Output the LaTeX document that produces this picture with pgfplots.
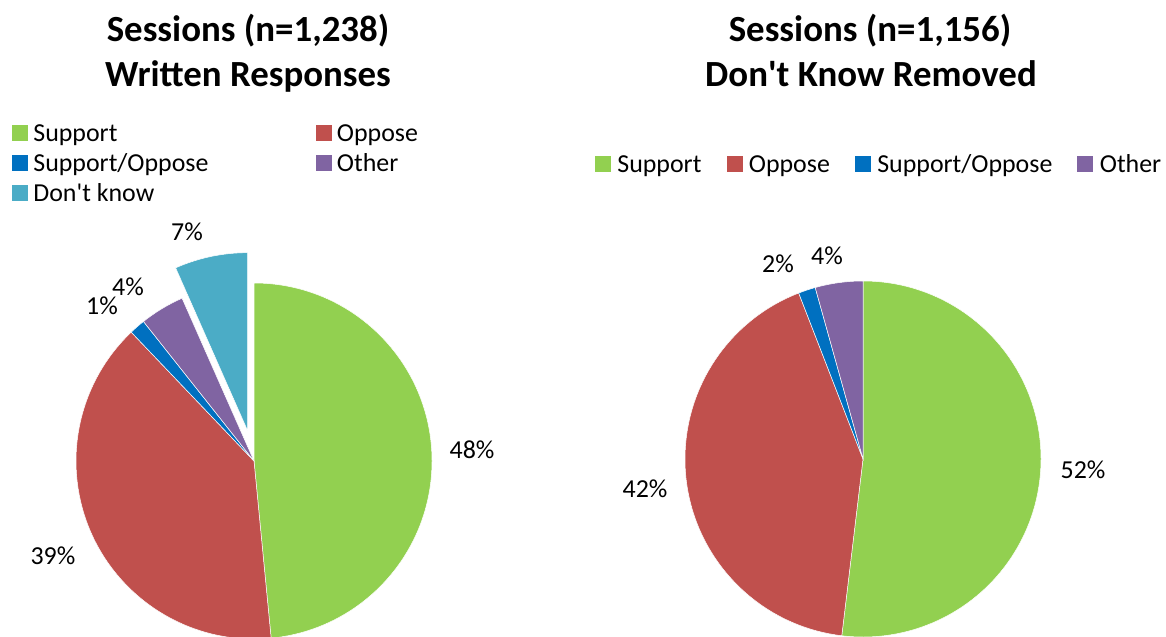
\documentclass[border=0pt]{standalone}
\usepackage{pgfplots}
\pgfplotsset{compat=1.18}
\usepackage{pgfplotstable}
\usepackage{fontspec}
\setmainfont{Carlito}

\definecolor{cSup}{HTML}{92D050}
\definecolor{cOpp}{HTML}{C0504D}
\definecolor{cSO}{HTML}{0070C0}
\definecolor{cOth}{HTML}{8064A2}
\definecolor{cDK}{HTML}{4BACC6}
\colorlet{pie0}{cSup}
\colorlet{pie1}{cOpp}
\colorlet{pie2}{cSO}
\colorlet{pie3}{cOth}
\colorlet{pie4}{cDK}

% counts of written responses (n=1,238)
\pgfplotstableread{
category count explode
Support 600 0
Oppose 488 0
SupportOppose 18 0
Other 50 0
DontKnow 82 31
}\writtentable
% don't know removed (n=1,156)
\pgfplotstableread{
category count explode
Support 600 0
Oppose 488 0
SupportOppose 18 0
Other 50 0
}\removedtable

\newcommand\piecompute[2]{%
  \gdef\pietotal{0}%
  \pgfplotstableforeachcolumnelement{count}\of#1\as\cell{%
    \pgfmathparse{\pietotal+\cell}\xdef\pietotal{\pgfmathresult}}%
  \gdef\piecum{0}%
  \pgfplotstableforeachcolumnelement{count}\of#1\as\cell{%
    \pgfmathparse{90-360*(\piecum/\pietotal)}%
    \expandafter\xdef\csname #2s\pgfplotstablerow\endcsname{\pgfmathresult}%
    \pgfmathparse{\piecum+\cell}\xdef\piecum{\pgfmathresult}%
    \pgfmathparse{90-360*(\piecum/\pietotal)}%
    \expandafter\xdef\csname #2e\pgfplotstablerow\endcsname{\pgfmathresult}%
    \pgfmathparse{(\csname #2s\pgfplotstablerow\endcsname+\csname #2e\pgfplotstablerow\endcsname)/2}%
    \expandafter\xdef\csname #2m\pgfplotstablerow\endcsname{\pgfmathresult}%
  }%
  \pgfplotstableforeachcolumnelement{explode}\of#1\as\cell{%
    \expandafter\xdef\csname #2x\pgfplotstablerow\endcsname{\cell}}%
}
\piecompute{\writtentable}{L}
\piecompute{\removedtable}{R}

\newcommand\legsq[1]{\addlegendimage{legend image code/.code={\fill[#1] (0bp,-7.5bp) rectangle (15bp,7.5bp);}}}

\begin{document}
\begin{tikzpicture}
\begin{axis}[
  at={(0bp,0bp)}, anchor=south west,
  scale only axis, width=583bp, height=637bp,
  xmin=0, xmax=583, ymin=0, ymax=637, y dir=reverse,
  hide axis, clip=false,
  legend columns=2, legend cell align=left,
  legend style={at={(axis cs:12,120)}, anchor=north west, draw=none, fill=none,
    inner sep=0pt, outer sep=0pt, row sep=4bp,
    font=\fontsize{26}{30}\selectfont,
    nodes={inner sep=0pt, text height=21bp, text depth=5bp},
    /tikz/every odd column/.append style={column sep=6bp},
    /tikz/every even column/.append style={column sep=107bp}},
]
\legsq{cSup}\addlegendentry{Support}
\legsq{cOpp}\addlegendentry{Oppose}
\legsq{cSO}\addlegendentry{Support/Oppose}
\legsq{cOth}\addlegendentry{Other}
\legsq{cDK}\addlegendentry{Don\textquotesingle t know}
\pgfplotsinvokeforeach{0,...,4}{
  \fill[pie#1, draw=white, line width=0.5bp]
    (axis cs:254,461) ++(\csname Lm#1\endcsname:\csname Lx#1\endcsname bp)
    -- +(\csname Ls#1\endcsname:178bp)
    arc[start angle=\csname Ls#1\endcsname, end angle=\csname Le#1\endcsname, radius=178bp]
    -- cycle;
}
\node[font=\fontsize{37}{40}\selectfont\bfseries, anchor=base] at (axis cs:248,42) {Sessions (n=1,238)};
\node[font=\fontsize{37}{40}\selectfont\bfseries, anchor=base] at (axis cs:248,87) {Written Responses};
\begin{scope}[every node/.style={font=\fontsize{26}{30}\selectfont}]
\node at (axis cs:472,450) {48\%};
\node at (axis cs:53,556) {39\%};
\node at (axis cs:102,306) {1\%};
\node at (axis cs:128,287) {4\%};
\node at (axis cs:187,232) {7\%};
\end{scope}
\end{axis}

\begin{axis}[
  at={(583bp,0bp)}, anchor=south west,
  scale only axis, width=583bp, height=637bp,
  xmin=583, xmax=1166, ymin=0, ymax=637, y dir=reverse,
  hide axis, clip=false,
  legend columns=4, legend cell align=left,
  legend style={at={(axis cs:595,151)}, anchor=north west, draw=none, fill=none,
    inner sep=0pt, outer sep=0pt,
    font=\fontsize{26}{30}\selectfont,
    nodes={inner sep=0pt, text height=21bp, text depth=5bp},
    /tikz/every odd column/.append style={column sep=7bp},
    /tikz/every even column/.append style={column sep=25bp}},
]
\legsq{cSup}\addlegendentry{Support}
\legsq{cOpp}\addlegendentry{Oppose}
\legsq{cSO}\addlegendentry{Support/Oppose}
\legsq{cOth}\addlegendentry{Other}
\pgfplotsinvokeforeach{0,...,3}{
  \fill[pie#1, draw=white, line width=0.5bp]
    (axis cs:863,459) ++(\csname Rm#1\endcsname:\csname Rx#1\endcsname bp)
    -- +(\csname Rs#1\endcsname:178bp)
    arc[start angle=\csname Rs#1\endcsname, end angle=\csname Re#1\endcsname, radius=178bp]
    -- cycle;
}
\node[font=\fontsize{37}{40}\selectfont\bfseries, anchor=base] at (axis cs:870,42) {Sessions (n=1,156)};
\node[font=\fontsize{37}{40}\selectfont\bfseries, anchor=base] at (axis cs:871,87) {Don\textquotesingle t Know Removed};
\begin{scope}[every node/.style={font=\fontsize{26}{30}\selectfont}]
\node at (axis cs:1083,470) {52\%};
\node at (axis cs:645,489) {42\%};
\node at (axis cs:778,264) {2\%};
\node at (axis cs:827,256) {4\%};
\end{scope}
\end{axis}
\pgfresetboundingbox
\useasboundingbox (0bp,0bp) rectangle (1166bp,637bp);
\end{tikzpicture}
\end{document}
